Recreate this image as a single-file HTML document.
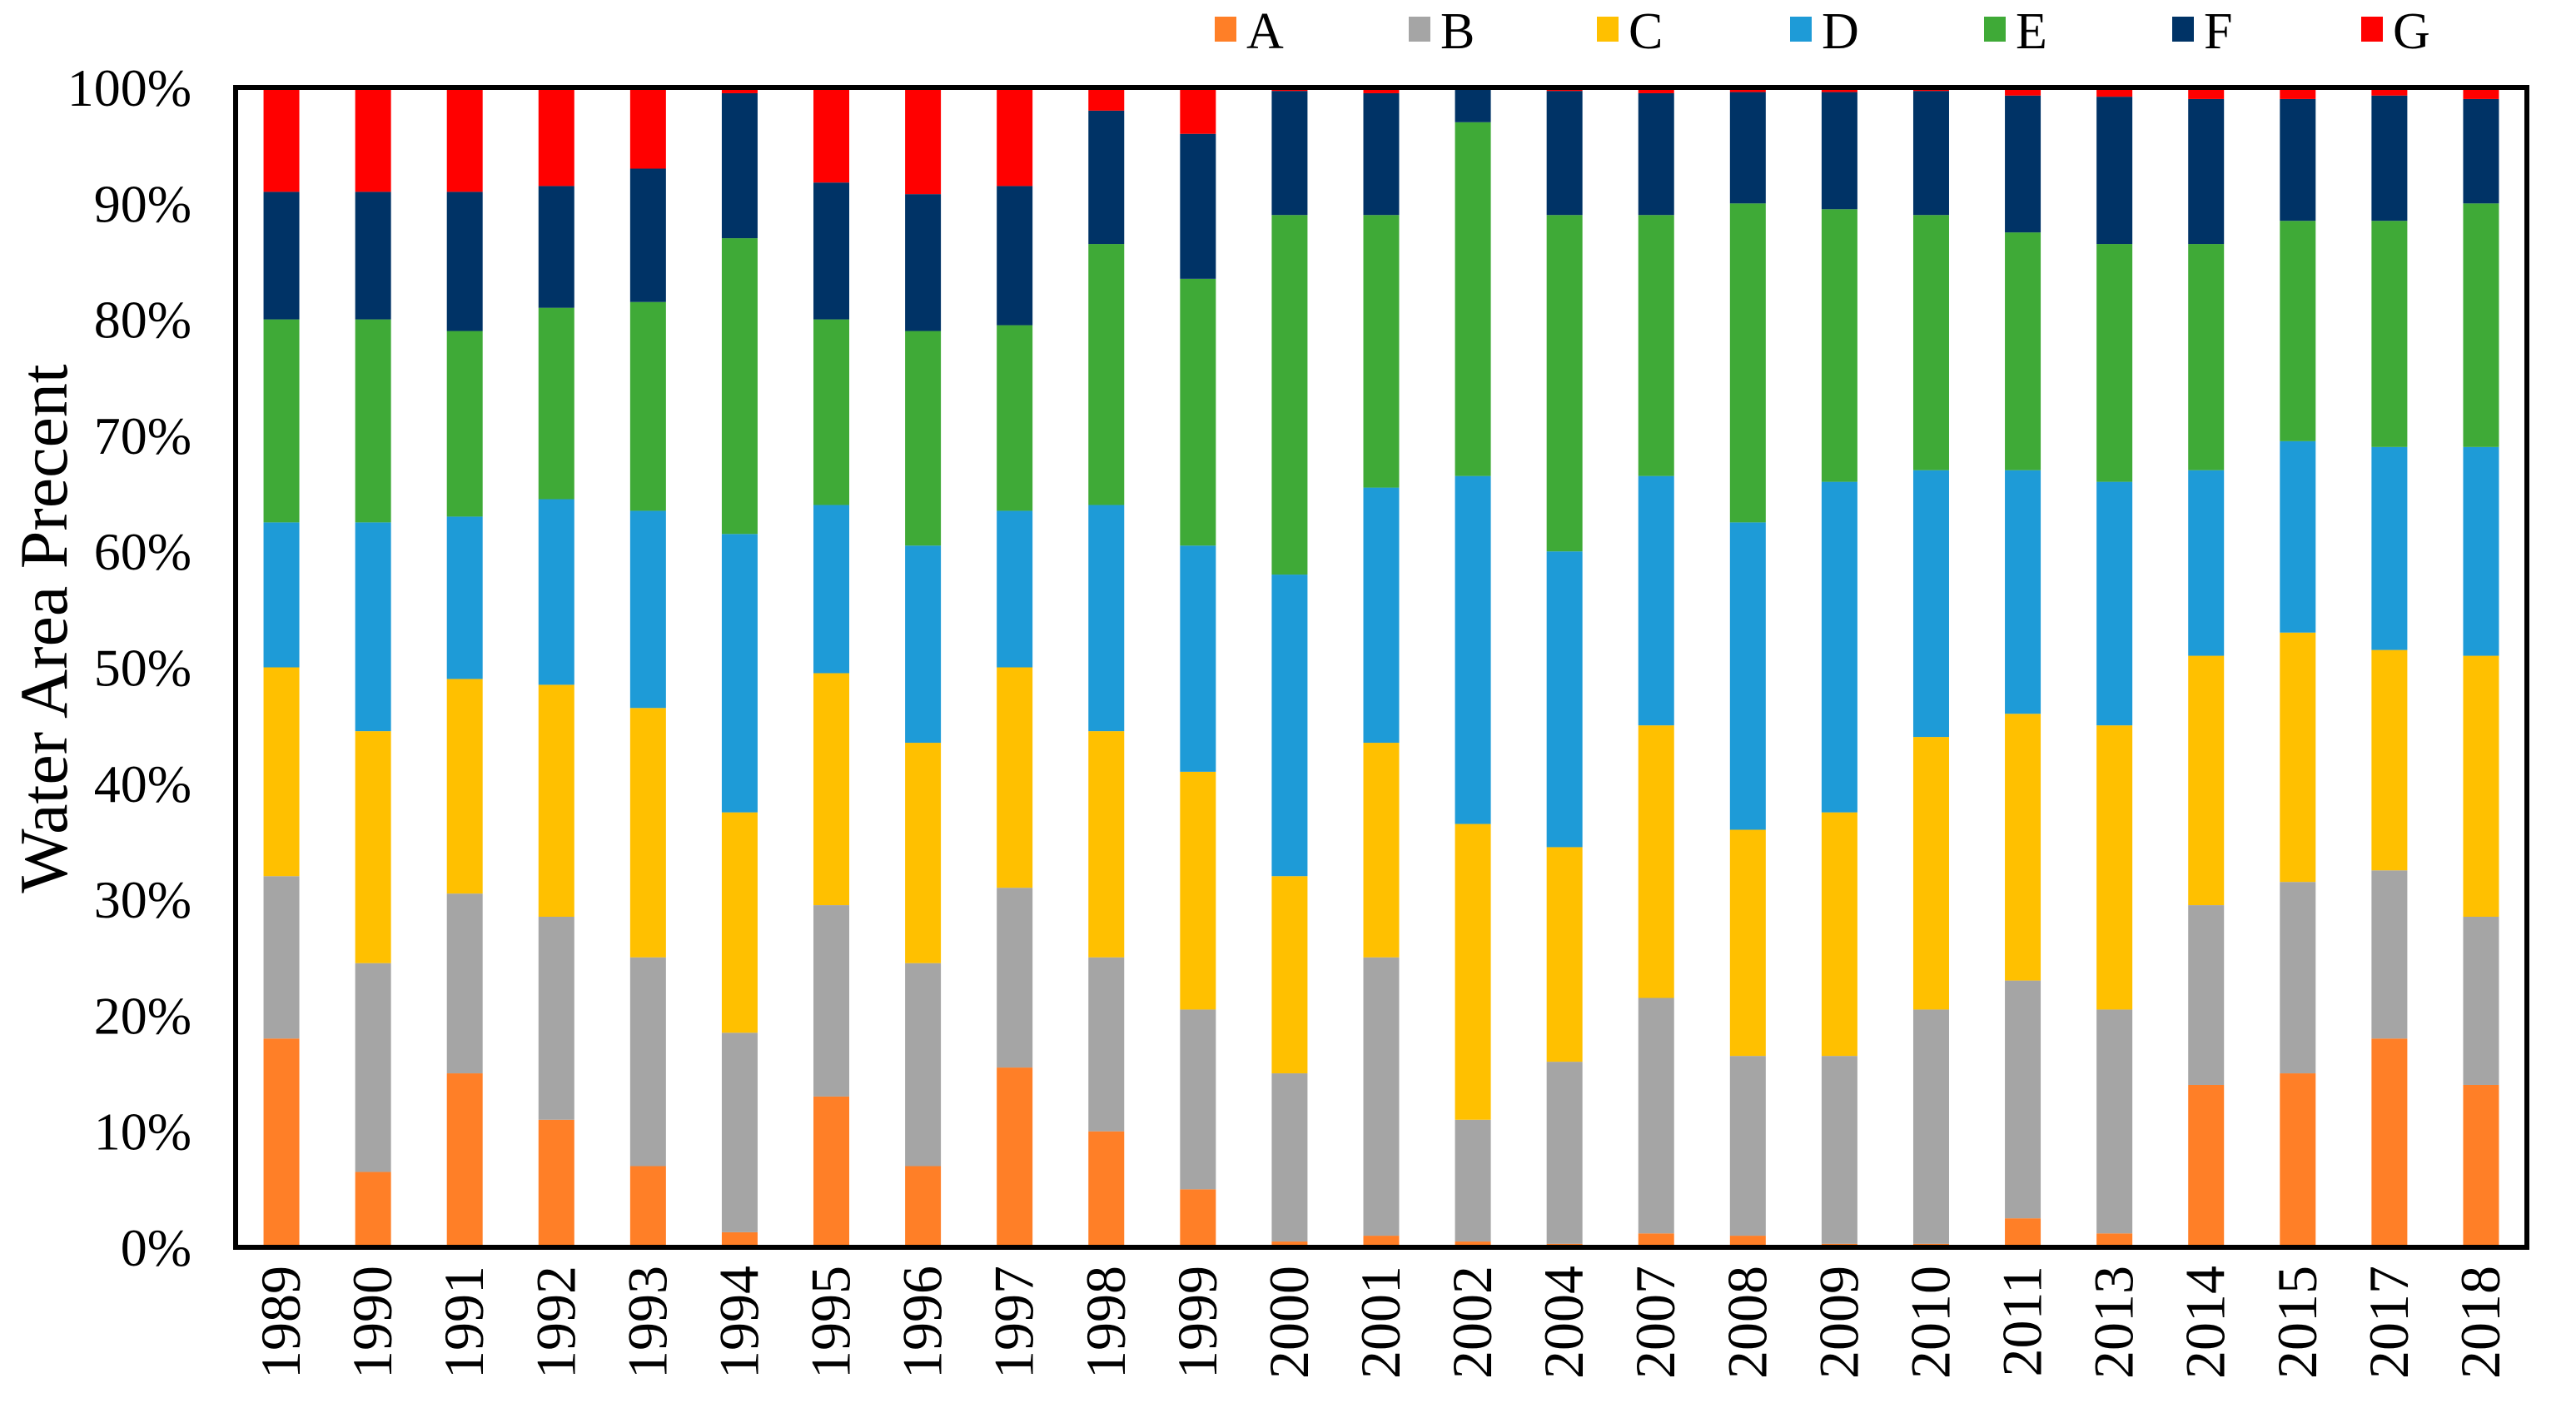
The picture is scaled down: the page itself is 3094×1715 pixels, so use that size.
<!DOCTYPE html>
<html><head><meta charset="utf-8"><style>
html,body{margin:0;padding:0;background:#fff;}
svg{display:block;font-family:"Liberation Serif",serif;}
</style></head><body>
<svg id="chart" width="3094" height="1715" viewBox="0 0 3094 1715">
<g id="bars"></g>
<rect x="283" y="105" width="2752" height="1393" fill="none" stroke="#000" stroke-width="6"/>
<g id="yaxis"></g>
<g id="xaxis"></g>
<text transform="translate(80,755) rotate(-90)" text-anchor="middle" font-size="82" fill="#000">Water Area Precent</text>
<g id="legend"></g>
</svg>
<script>
const years=["1989","1990","1991","1992","1993","1994","1995","1996","1997","1998","1999","2000","2001","2002","2004","2007","2008","2009","2010","2011","2013","2014","2015","2017","2018"];
const seriesNames=["A","B","C","D","E","F","G"];
const seriesColors=["#FF7F27","#A5A5A5","#FFC000","#1E9BD7","#3FAA37","#003366","#FF0000"];
const A=[18,6.5,15,11,7,1.3,13,7,15.5,10,5,0.5,1,0.5,0.3,1.2,1,0.3,0.3,2.5,1.2,14,15,18,14];
const B=[14,18,15.5,17.5,18,17.2,16.5,17.5,15.5,15,15.5,14.5,24,10.5,15.7,20.3,15.5,16.2,20.2,20.5,19.3,15.5,16.5,14.5,14.5];
const C=[18,20,18.5,20,21.5,19,20,19,19,19.5,20.5,17,18.5,25.5,18.5,23.5,19.5,21,23.5,23,24.5,21.5,21.5,19,22.5];
const D=[12.5,18,14,16,17,24,14.5,17,13.5,19.5,19.5,26,22,30,25.5,21.5,26.5,28.5,23,21,21,16,16.5,17.5,18];
const E=[17.5,17.5,16,16.5,18,25.5,16,18.5,16,22.5,23,31,23.5,30.5,29,22.5,27.5,23.5,22,20.5,20.5,19.5,19,19.5,21];
const F=[11,11,12,10.5,11.5,12.5,11.8,11.8,12,11.5,12.5,10.7,10.5,2.8,10.7,10.5,9.6,10.1,10.7,11.8,12.7,12.5,10.5,10.8,9];
const G=[9,9,9,8.5,7,0.5,8.2,9.2,8.5,2,4,0.3,0.5,0.2,0.3,0.5,0.4,0.4,0.3,0.7,0.8,1,1,0.7,1];
const yTicks=[0,10,20,30,40,50,60,70,80,90,100];
const yTickLabels=["0%","10%","20%","30%","40%","50%","60%","70%","80%","90%","100%"];
const series=[A,B,C,D,E,F,G];
const NS="http://www.w3.org/2000/svg";
const L=283,R=3035,T=105,B0=1498;
const band=(R-L)/years.length, bw=43;
function xC(i){return L+band*(i+0.5);}
function yS(v){return B0-(v/100)*(B0-T);}
const gb=document.getElementById('bars');
years.forEach((yr,i)=>{
  let tot=series.reduce((s,arr)=>s+arr[i],0), cum=0;
  series.forEach((arr,k)=>{
    const v=arr[i]/tot*100;
    const r=document.createElementNS(NS,'rect');
    r.setAttribute('x',xC(i)-bw/2);
    r.setAttribute('y',yS(cum+v));
    r.setAttribute('width',bw);
    r.setAttribute('height',yS(cum)-yS(cum+v));
    r.setAttribute('fill',seriesColors[k]);
    
    
    gb.appendChild(r);
    cum+=v;
  });
});
const gy=document.getElementById('yaxis');
yTicks.forEach((t,i)=>{
  const tx=document.createElementNS(NS,'text');
  tx.setAttribute('x',230);tx.setAttribute('y',yS(t)+22);
  tx.setAttribute('text-anchor','end');tx.setAttribute('font-size','64');
  tx.textContent=yTickLabels[i];
  
  
  gy.appendChild(tx);
});
const gx=document.getElementById('xaxis');
years.forEach((yr,i)=>{
  const tx=document.createElementNS(NS,'text');
  tx.setAttribute('transform','translate('+(xC(i)+22)+','+(B0+22)+') rotate(-90)');
  tx.setAttribute('text-anchor','end');tx.setAttribute('font-size','68');
  tx.textContent=yr;
  
  
  gx.appendChild(tx);
});
const gl=document.getElementById('legend');
const legX=[1459,1692,1918,2150,2383,2609,2836];
seriesNames.forEach((n,k)=>{
  const g=document.createElementNS(NS,'g');
  
  
  const r=document.createElementNS(NS,'rect');
  r.setAttribute('x',legX[k]);r.setAttribute('y',20);r.setAttribute('width',26);r.setAttribute('height',30);
  r.setAttribute('fill',seriesColors[k]);
  
  
  const t=document.createElementNS(NS,'text');
  t.setAttribute('x',legX[k]+38);t.setAttribute('y',58);t.setAttribute('font-size','62');
  t.textContent=n;
  
  
  g.appendChild(r);g.appendChild(t);gl.appendChild(g);
});
</script>
</body></html>
